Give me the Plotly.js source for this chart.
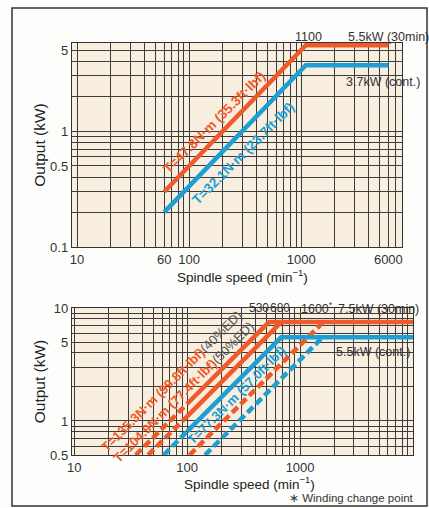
<!DOCTYPE html>
<html>
<head>
<meta charset="utf-8">
<script src="https://cdn.plot.ly/plotly-3.0.1.min.js"></script>
<style>html,body{margin:0;padding:0;background:#fdfdfb;}#chart{width:429px;height:508px;}</style>
</head>
<body>
<div id="chart"></div>
<script>
// ---- data ----
const topXLabels = [10, 60, 100, 1000, 6000];
const topYLabels = [0.1, 0.5, 1, 5];
const botXLabels = [10, 100, 1000, 10000];
const botYLabels = [0.5, 1, 5, 10];

// upper chart (spindle output)
const top30minSpeed = [60, 1100, 6000];
const top30minOutput = [0.30, 5.5, 5.5];
const topContSpeed = [60, 1100, 6000];
const topContOutput = [0.20, 3.7, 3.7];

// lower chart (winding change motor)
const bot40Speed = [100, 530, 10000];
const bot40Output = [1.42, 7.5, 7.5];
const bot40LowSpeed = [35, 100];
const bot40LowOutput = [0.5, 1.42];
const bot50Speed = [100, 680];
const bot50Output = [1.10, 7.5];
const bot50LowSpeed = [45, 100];
const bot50LowOutput = [0.5, 1.10];
const botContSpeed = [100, 680, 10000];
const botContOutput = [0.81, 5.5, 5.5];
const botContLowSpeed = [62, 100];
const botContLowOutput = [0.5, 0.81];
const botHi30Speed = [105, 1600];
const botHi30Output = [0.5, 7.5];
const botHiContSpeed = [144, 1580];
const botHiContOutput = [0.5, 5.5];

// ---- styling ----
const W = 429, H = 508;
const px = x => x / W;
const py = y => 1 - y / H;
const ORANGE = '#ef5a28';
const BLUE = '#1d9fd3';
const FONT = 'Liberation Sans Narrow, Liberation Sans, Arial, sans-serif';
const SANS = 'Liberation Sans, Arial, sans-serif';
const LW = 4.5;
const DASH = '8px,4px';

function logGrid(lo, hi) {
  const v = [];
  for (let d = Math.pow(10, Math.floor(Math.log10(lo))); d < hi * 10; d *= 10) {
    for (let m = 1; m < 10; m++) {
      const val = +(m * d).toPrecision(6);
      if (val >= lo - 1e-9 && val <= hi + 1e-9) v.push(val);
    }
  }
  return v;
}
function labelsFor(vals, labels) {
  return vals.map(v => labels.some(l => Math.abs(l - v) < 1e-9) ? String(v) : '');
}

const topXGrid = logGrid(10, 7000);
const topYGrid = logGrid(0.1, 5);
const botXGrid = logGrid(10, 10000);
const botYGrid = logGrid(0.5, 10);

function line(x, y, color, xa, ya, dash) {
  return {x: x, y: y, xaxis: xa, yaxis: ya, mode: 'lines', hoverinfo: 'skip',
    line: {color: color, width: LW, dash: dash || 'solid'}};
}

const traces = [
  line(top30minSpeed, top30minOutput, ORANGE, 'x', 'y'),
  line(topContSpeed, topContOutput, BLUE, 'x', 'y'),
  line(bot40LowSpeed, bot40LowOutput, ORANGE, 'x2', 'y2', DASH),
  line(bot50LowSpeed, bot50LowOutput, ORANGE, 'x2', 'y2', DASH),
  line(botContLowSpeed, botContLowOutput, BLUE, 'x2', 'y2', DASH),
  line(botHi30Speed, botHi30Output, ORANGE, 'x2', 'y2', DASH),
  line(botHiContSpeed, botHiContOutput, BLUE, 'x2', 'y2', DASH),
  line(bot50Speed, bot50Output, ORANGE, 'x2', 'y2'),
  line(bot40Speed, bot40Output, ORANGE, 'x2', 'y2'),
  line(botContSpeed, botContOutput, BLUE, 'x2', 'y2')
];

const tickFont = {family: FONT, size: 13, color: '#333'};
const yTitleFont = {family: SANS, size: 15.5, color: '#222'};
function axis(extra) {
  return Object.assign({
    type: 'log', showgrid: true, gridcolor: '#3c3c3c', gridwidth: 1,
    showline: true, mirror: true, linecolor: '#333', linewidth: 1.2,
    ticks: '', zeroline: false, tickfont: tickFont, fixedrange: true,
    tickmode: 'array'
  }, extra);
}

function ann(x, y, text, opts) {
  return Object.assign({xref: 'paper', yref: 'paper', x: px(x), y: py(y), text: text,
    showarrow: false, xanchor: 'center', yanchor: 'middle',
    font: {family: FONT, size: 12.5, color: '#333'}}, opts || {});
}
const rotFont = (c, s) => ({family: SANS, size: s, color: c});
const xTitleFont = {family: SANS, size: 13.5, color: '#222'};
const X_TITLE = 'Spindle speed (min<sup>−1</sup>)';

const annotations = [
  ann(242, 276, X_TITLE, {font: xTitleFont}),
  ann(249, 483, X_TITLE, {font: xTitleFont}),
  ann(308, 37, '1100'),
  ann(388, 37, '5.5kW (30min)'),
  ann(383, 82, '3.7kW (cont.)'),
  ann(214, 122, '<b>T=47.8N·m (35.3ft·lbf)</b>', {textangle: -45, font: rotFont(ORANGE, 13.5)}),
  ann(243, 153, '<b>T=32.1N·m (23.7ft·lbf)</b>', {textangle: -45, font: rotFont(BLUE, 13.5)}),

  ann(259, 308, '530', {font: {family: FONT, size: 12, color: '#333'}}),
  ann(280, 308, '680', {font: {family: FONT, size: 12, color: '#333'}}),
  ann(317, 308, '1600<sup>*</sup>'),
  ann(378, 309, '7.5kW (30min)'),
  ann(373, 352, '5.5kW (cont.)'),
  ann(171, 381, '<b>T=135.3N·m (99.8ft·lbf)</b><span style="color:#555">(40%ED)</span>', {textangle: -45, font: rotFont(ORANGE, 13)}),
  ann(183, 392, '<b>T=104.9N·m (77.4ft·lbf)</b><span style="color:#555">(50%ED)</span>', {textangle: -45, font: rotFont(ORANGE, 13)}),
  ann(236, 395, '<b>T=77.3N·m (57.0ft·lbf)</b>', {textangle: -45, font: rotFont(BLUE, 13)}),
  ann(351, 498, '∗ Winding change point', {font: {family: SANS, size: 11.5, color: '#333'}})
];

const layout = {
  width: W, height: H,
  margin: {l: 0, r: 0, t: 0, b: 0},
  paper_bgcolor: '#fdfdfb',
  plot_bgcolor: '#f8eee0',
  showlegend: false,
  xaxis: axis({domain: [px(72), px(402)], anchor: 'y', range: [0.955, 3.90],
    tickvals: topXGrid, ticktext: labelsFor(topXGrid, topXLabels)}),
  yaxis: axis({domain: [py(247), py(43)], anchor: 'x', range: [-1, 0.76],
    tickvals: topYGrid, ticktext: labelsFor(topYGrid, topYLabels),
    title: {text: 'Output (kW)', font: yTitleFont, standoff: 0}}),
  xaxis2: axis({domain: [px(72), px(413)], anchor: 'y2', range: [0.98, 4.0],
    tickvals: botXGrid, ticktext: labelsFor(botXGrid, botXLabels)}),
  yaxis2: axis({domain: [py(455), py(308)], anchor: 'x2', range: [Math.log10(0.5), 1],
    tickvals: botYGrid, ticktext: labelsFor(botYGrid, botYLabels),
    title: {text: 'Output (kW)', font: yTitleFont, standoff: 0}}),
  shapes: [
    {type: 'rect', xref: 'paper', yref: 'paper', x0: px(12), x1: px(427), y0: py(506), y1: py(8),
     line: {color: '#333', width: 1.5}, fillcolor: 'rgba(0,0,0,0)', layer: 'below'}
  ],
  annotations: annotations
};

Plotly.newPlot('chart', traces, layout, {displayModeBar: false, staticPlot: true});
</script>
</body>
</html>
